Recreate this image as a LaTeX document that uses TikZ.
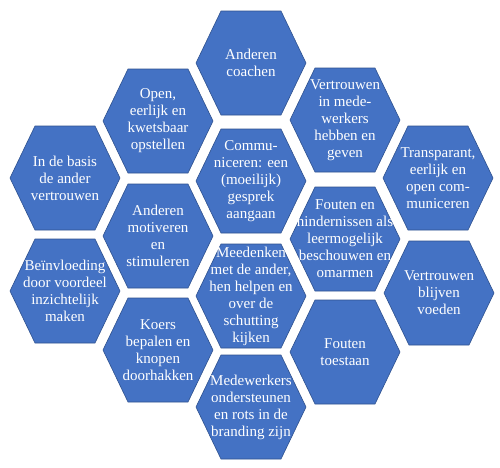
\documentclass[tikz,border=0pt]{standalone}
\usepackage{fontspec}
\setmainfont{Liberation Serif}
\definecolor{hexblue}{HTML}{4472C4}
\definecolor{hexedge}{HTML}{2F528F}
\tikzset{
  hexfill/.style={fill=hexblue, draw=hexedge, line width=0.6pt, line join=miter},
  hextext/.style={text=white, align=center, inner sep=0pt, font=\fontsize{15}{17}\selectfont}
}
\newcommand\hexcell[4]{%
  \draw[hexfill, shift={(#2,#3)}] (-55,0) -- (-30,-52) -- (30,-52) -- (55,0) -- (30,52) -- (-30,52) -- cycle;
  \node[hextext] (#1) at (#2,#3) {#4};
}
\begin{document}
\begin{tikzpicture}[x=1pt,y=-1pt]
\useasboundingbox[fill=white] (0,0) rectangle (500,467);
\hexcell{coach}{251}{63}{Anderen\\coachen}
\hexcell{open}{158}{121}{Open,\\eerlijk en\\kwetsbaar\\opstellen}
\hexcell{vertr}{345}{120}{Vertrouwen\\in mede-\\werkers\\hebben en\\geven}
\hexcell{basis}{65}{178}{In de basis\\de ander\\vertrouwen}
\hexcell{comm}{251}{181}{Commu-\\niceren: een\\(moeilijk)\\gesprek\\aangaan}
\hexcell{transp}{438}{178}{Transparant,\\eerlijk en\\open com-\\municeren}
\hexcell{motiv}{158}{236}{Anderen\\motiveren\\en\\stimuleren}
\hexcell{hinder}{345}{239}{Fouten en\\hindernissen als\\leermogelijk\\beschouwen en\\omarmen}
\hexcell{beinv}{65}{291}{Beïnvloeding\\door voordeel\\inzichtelijk\\maken}
\hexcell{meed}{251}{296}{Meedenken\\met de ander,\\hen helpen en\\over de\\schutting\\kijken}
\hexcell{voeden}{439}{293}{Vertrouwen\\blijven\\voeden}
\hexcell{koers}{158}{350}{Koers\\bepalen en\\knopen\\doorhakken}
\hexcell{toest}{345}{352}{Fouten\\toestaan}
\hexcell{mede}{251}{407}{Medewerkers\\ondersteunen\\en rots in de\\branding zijn}
\end{tikzpicture}
\end{document}
